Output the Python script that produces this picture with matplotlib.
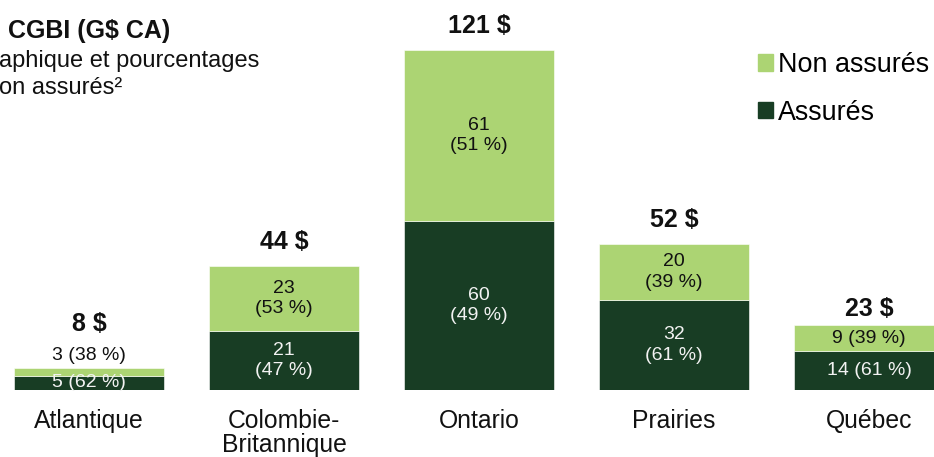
import matplotlib.pyplot as plt
from matplotlib.patches import Patch

plt.rcParams['font.family'] = ['Liberation Sans', 'DejaVu Sans']

regions = ["Atlantique", "Colombie-\nBritannique", "Ontario", "Prairies", "Québec"]
insured = [5, 21, 60, 32, 14]
uninsured = [3, 23, 61, 20, 9]
insured_pct = [62, 47, 49, 61, 61]
uninsured_pct = [38, 53, 51, 39, 39]
totals = [8, 44, 121, 52, 23]

light = "#acd473"
dark = "#183d24"

W, H = 934, 457
fig = plt.figure(figsize=(W / 100, H / 100), dpi=100)
ax = fig.add_axes([0, 67 / H, 1, 390 / H])

x = list(range(len(regions)))
ax.bar(x, insured, width=0.77, color=dark, edgecolor="white", linewidth=0.4)
ax.bar(x, uninsured, bottom=insured, width=0.77, color=light, edgecolor="white", linewidth=0.4)

ax.set_xlim(-89 / 195, 4 + 65 / 195)
ax.set_ylim(0, 121 * 390 / 340)
ax.set_xticks(x)
ax.set_xticklabels(regions, fontsize=17.8, linespacing=1.0, color="#111111")
ax.tick_params(axis="x", length=0, pad=14)
ax.set_yticks([])
for s in ax.spines.values():
    s.set_visible(False)

# segment labels
fs = 14
for i in x:
    top = insured[i] + uninsured[i]
    if i == 0:
        # small bar: uninsured label sits above the bar
        ax.annotate(f"{uninsured[i]} ({uninsured_pct[i]} %)", (i, top), xytext=(0, 4),
                    textcoords="offset pixels", ha="center", va="bottom",
                    fontsize=fs, color="#111111")
        ax.text(i, insured[i] / 2, f"{insured[i]} ({insured_pct[i]} %)", ha="center",
                va="center", fontsize=fs, color="#f2f2f2")
        off = 32
    elif i == 4:
        ax.text(i, insured[i] + uninsured[i] / 2, f"{uninsured[i]} ({uninsured_pct[i]} %)",
                ha="center", va="center", fontsize=fs, color="#111111")
        ax.text(i, insured[i] / 2, f"{insured[i]} ({insured_pct[i]} %)", ha="center",
                va="center", fontsize=fs, color="#f2f2f2")
        off = 4
    else:
        ax.text(i, insured[i] + uninsured[i] / 2, f"{uninsured[i]}\n({uninsured_pct[i]} %)",
                ha="center", va="center", fontsize=fs, color="#111111", linespacing=1.25)
        ax.text(i, insured[i] / 2, f"{insured[i]}\n({insured_pct[i]} %)", ha="center",
                va="center", fontsize=fs, color="#f2f2f2", linespacing=1.25)
        off = 12
    ax.annotate(f"{totals[i]} $", (i, top), xytext=(0, off), textcoords="offset pixels",
                ha="center", va="bottom", fontsize=18, fontweight="bold", color="#111111")

# title (cropped in the original)
fig.text(8 / W, 1 - 31 / H, "CGBI (G$ CA)", fontsize=18, fontweight="bold",
         va="center", ha="left", color="#111111")
fig.text(-1 / W, 1 - 61 / H, "aphique et pourcentages", fontsize=17,
         va="center", ha="left", color="#111111")
fig.text(-1 / W, 1 - 88 / H, "on assurés²", fontsize=17,
         va="center", ha="left", color="#111111")

handles = [Patch(color=light), Patch(color=dark)]
fig.legend(handles, ["Non assurés", "Assurés"], loc="upper left",
           bbox_to_anchor=(758 / W, 1 - 52 / H), frameon=False, fontsize=19.4,
           handlelength=0.55, handleheight=0.55, handletextpad=0.2,
           labelspacing=0.8, borderpad=0, borderaxespad=0)

fig.savefig("out.png", dpi=100)
